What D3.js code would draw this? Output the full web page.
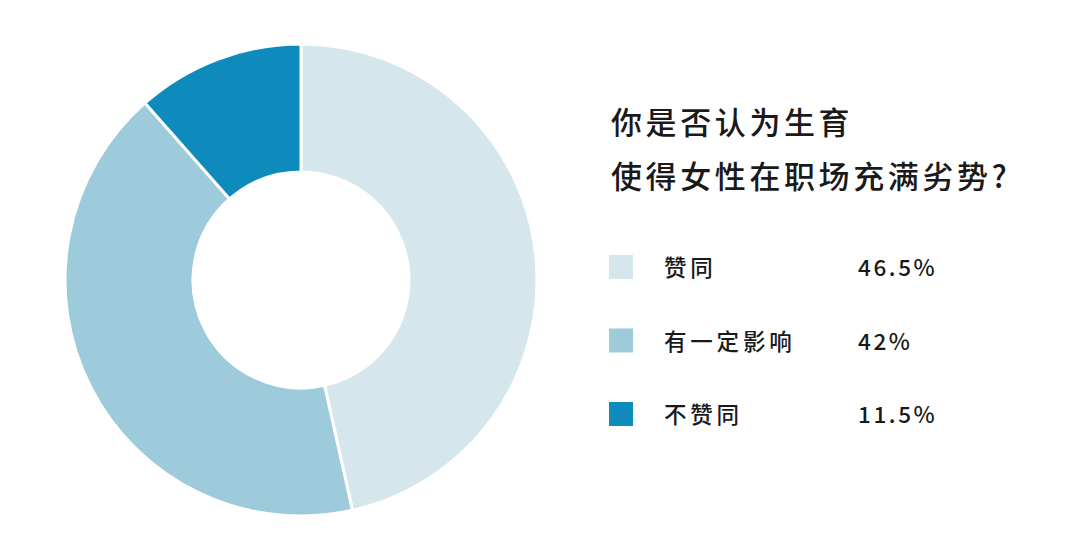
<!DOCTYPE html>
<html>
<head>
<meta charset="utf-8">
<script src="https://cdn.jsdelivr.net/npm/d3@7"></script>
<style>
  html, body { margin: 0; padding: 0; background: #fff; }
  svg { display: block; font-family: "Noto Sans CJK SC", "Noto Sans", sans-serif; }
</style>
</head>
<body>
<div id="chart"></div>
<script>
const categories = ["赞同", "有一定影响", "不赞同"];
const values = [46.5, 42, 11.5];
const valueLabels = ["46.5%", "42%", "11.5%"];
const colors = ["#d5e7ed", "#9dcbdb", "#0f8abd"];
const titleLines = ["你是否认为生育", "使得女性在职场充满劣势?"];

const width = 1080, height = 559;
const cx = 301, cy = 280, outerR = 236, innerR = 108;

const data = categories.map((c, i) => ({ name: c, value: values[i], label: valueLabels[i], color: colors[i] }));

const svg = d3.select("#chart")
  .append("svg")
  .attr("width", width)
  .attr("height", height)
  .attr("viewBox", `0 0 ${width} ${height}`);

// Donut
const pie = d3.pie().value((d) => d.value).sort(null);
const arc = d3.arc().innerRadius(innerR).outerRadius(outerR);

svg.append("g")
  .attr("transform", `translate(${cx},${cy})`)
  .selectAll("path")
  .data(pie(data))
  .join("path")
  .attr("d", arc)
  .attr("fill", (d) => d.data.color)
  .attr("stroke", "#fff")
  .attr("stroke-width", 3);

// Title
svg.append("g")
  .selectAll("text")
  .data(titleLines)
  .join("text")
  .attr("x", 611)
  .attr("y", (d, i) => 134 + i * 54)
  .attr("font-size", 31)
  .attr("letter-spacing", 3.6)
  .attr("font-weight", 500)
  .attr("fill", "#1a1a1a")
  .text((d) => d);

// Legend
const rowY = d3.scalePoint().domain(categories).range([267, 414]);

const legend = svg.append("g")
  .selectAll("g")
  .data(data)
  .join("g")
  .attr("transform", (d) => `translate(0,${rowY(d.name)})`);

legend.append("rect")
  .attr("x", 609)
  .attr("y", -12)
  .attr("width", 24)
  .attr("height", 24)
  .attr("fill", (d) => d.color);

legend.append("text")
  .attr("x", 664)
  .attr("y", 9)
  .attr("font-size", 22.5)
  .attr("letter-spacing", 3.8)
  .attr("font-weight", 500)
  .attr("fill", "#1a1a1a")
  .text((d) => d.name);

legend.append("text")
  .attr("x", 858)
  .attr("y", 9)
  .attr("font-size", 22.5)
  .attr("letter-spacing", 2.6)
  .attr("font-weight", 500)
  .attr("fill", "#1a1a1a")
  .text((d) => d.label);
</script>
</body>
</html>
